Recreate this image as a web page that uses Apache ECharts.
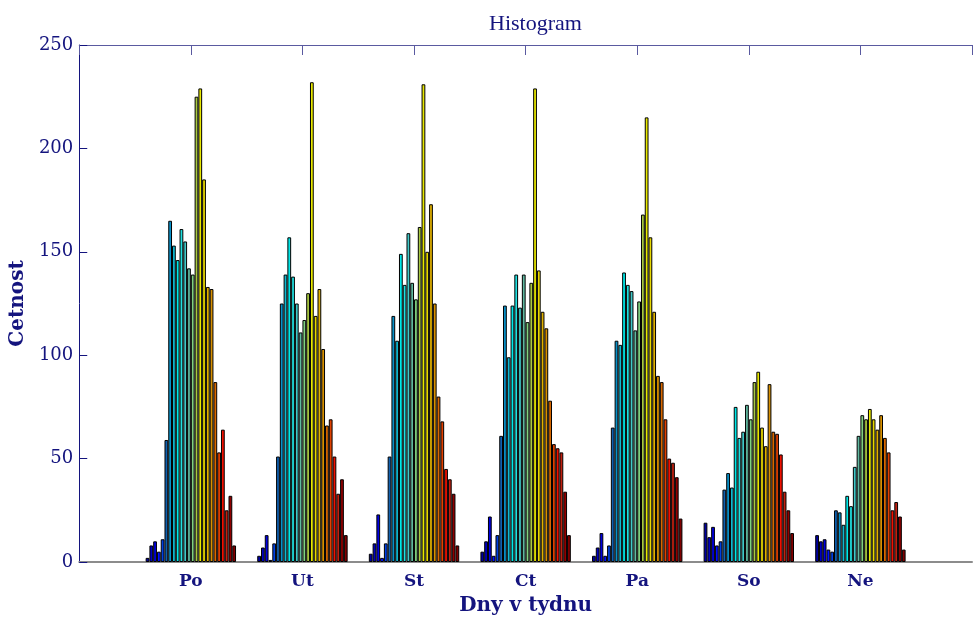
<!DOCTYPE html>
<html>
<head>
<meta charset="utf-8">
<script src="https://cdn.jsdelivr.net/npm/echarts@6/dist/echarts.min.js"></script>
<style>
  html, body { margin: 0; padding: 0; background: #fff; }
  #histogram { width: 975px; height: 621px; }
</style>
</head>
<body>
<div id="histogram"></div>
<script>
// dny v tydnu, empty slots at both ends keep the axis running 0..8
const days = ['', 'Po', 'Ut', 'St', 'Ct', 'Pa', 'So', 'Ne', '']
const yTicks = [0, 50, 100, 150, 200, 250]

// 24 hodin for each day
const po = [2, 8, 10, 5, 11, 59, 165, 153, 146, 161, 155, 142, 139, 225, 229, 185, 133, 132, 87, 53, 64, 25, 32, 8]
const ut = [3, 7, 13, 1, 9, 51, 125, 139, 157, 138, 125, 111, 117, 130, 232, 119, 132, 103, 66, 69, 51, 33, 40, 13]
const st = [4, 9, 23, 2, 9, 51, 119, 107, 149, 134, 159, 135, 127, 162, 231, 150, 173, 125, 80, 68, 45, 40, 33, 8]
const ct = [5, 10, 22, 3, 13, 61, 124, 99, 124, 139, 123, 139, 116, 135, 229, 141, 121, 113, 78, 57, 55, 53, 34, 13]
const pa = [3, 7, 14, 3, 8, 65, 107, 105, 140, 134, 131, 112, 126, 168, 215, 157, 121, 90, 87, 69, 50, 48, 41, 21]
const so = [19, 12, 17, 8, 10, 35, 43, 36, 75, 60, 63, 76, 69, 87, 92, 65, 56, 86, 63, 62, 52, 34, 25, 14]
const ne = [13, 10, 11, 6, 5, 25, 24, 18, 32, 27, 46, 61, 71, 69, 74, 69, 64, 71, 60, 53, 25, 29, 22, 6]

const hourColors = [
    '#0000a0', '#0000c0', '#0000e0', '#0010ff', '#0040e0', '#1060b0',
    '#0890c8', '#10b8d0', '#00e8e8', '#20e0e0', '#40c8c8', '#60b8a0',
    '#80d080', '#a8c840', '#e8e800', '#e8d800', '#e0b000', '#d89000',
    '#d86800', '#e04000', '#f01000', '#c02010', '#900000', '#800000'
]

const navy = '#14147e'
const dayValues = [po, ut, st, ct, pa, so, ne]

var series = []
for (let h = 0; h < 24; h++) {
    series.push({
        type: 'bar',
        name: 'h' + h,
        xAxisIndex: 0,
        barGap: 0,
        barCategoryGap: '19%',
        itemStyle: {
            color: hourColors[h],
            borderColor: '#000',
            borderWidth: 1
        },
        emphasis: { disabled: true },
        data: [null].concat(dayValues.map(d => d[h])).concat([null])
    })
}

var option = {
    animation: false,
    title: {
        text: 'Histogram',
        left: 484,
        top: 8,
        textStyle: {
            color: navy,
            fontFamily: 'Liberation Serif',
            fontSize: 22,
            fontWeight: 'normal'
        }
    },
    grid: {
        left: 78,
        right: -15,
        top: 45,
        bottom: 55
    },
    xAxis: [
        {
            type: 'category',
            data: days,
            boundaryGap: false,
            position: 'bottom',
            name: 'Dny v tydnu',
            nameLocation: 'middle',
            nameGap: 34,
            nameTextStyle: {
                color: navy,
                fontFamily: 'DejaVu Serif',
                fontWeight: 'bold',
                fontSize: 20
            },
            axisLine: { lineStyle: { color: '#8c8c8c', width: 2 } },
            axisTick: { show: false },
            axisLabel: {
                color: navy,
                fontFamily: 'DejaVu Serif',
                fontWeight: 'bold',
                fontSize: 17,
                margin: 11,
                interval: 0
            },
            splitLine: { show: false }
        },
        {
            type: 'category',
            data: days,
            boundaryGap: false,
            position: 'top',
            axisLine: { lineStyle: { color: '#5a5aa0', width: 1 } },
            axisTick: { show: true, inside: true, length: 10, interval: 0, lineStyle: { color: '#5a5aa0' } },
            axisLabel: { show: false },
            splitLine: { show: false }
        }
    ],
    yAxis: {
        type: 'value',
        min: yTicks[0],
        max: yTicks[yTicks.length - 1],
        interval: 50,
        name: 'Cetnost',
        nameLocation: 'middle',
        nameGap: 45,
        nameRotate: 90,
        nameTextStyle: {
            color: navy,
            fontFamily: 'DejaVu Serif',
            fontWeight: 'bold',
            fontSize: 20
        },
        axisLine: { show: true, lineStyle: { color: navy, width: 1 } },
        axisTick: { show: true, inside: true, length: 8, lineStyle: { color: navy } },
        axisLabel: {
            color: navy,
            fontFamily: 'DejaVu Serif',
            fontSize: 18,
            margin: 6
        },
        splitLine: { show: false }
    },
    series: series
}

var chartDom = document.getElementById('histogram')
var myChart = echarts.init(chartDom)
option && myChart.setOption(option)
</script>
</body>
</html>
